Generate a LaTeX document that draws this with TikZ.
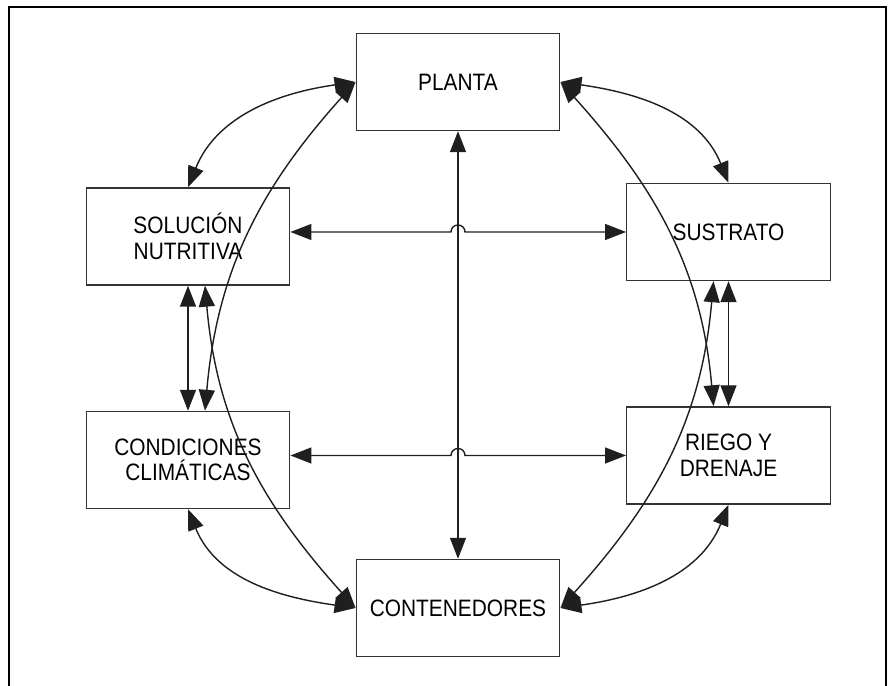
\documentclass[tikz,border=0pt]{standalone}
\usepackage{fontspec}
\setmainfont{Liberation Sans}[FakeStretch=0.88]
\usetikzlibrary{arrows.meta}

\begin{document}
\begin{tikzpicture}[
  font=\fontsize{13.5}{14.5}\selectfont,
  >={Triangle[length=0.42cm, width=0.32cm]},
  frame/.style={draw=black, line width=1.5pt},
  box/.style={draw=black!80, line width=0.8pt, fill=white, align=center,
              minimum width=4.07cm, minimum height=1.94cm, inner sep=0pt},
  link/.style={draw=black!88, line width=0.8pt, <->}
]
\useasboundingbox (0,0) rectangle (17.92,13.72);
\draw[frame] (0.18,0) -- (0.18,13.58) -- (17.72,13.58) -- (17.72,0);

% boxes
\node[box] (planta) at (9.16,12.08) {PLANTA};
\node[box] (sol)    at (3.76,8.99)  {SOLUCIÓN\\NUTRITIVA};
\node[box] (sus)    at (14.57,9.08) {SUSTRATO};
\node[box] (cond)   at (3.76,4.52)  {CONDICIONES\\CLIMÁTICAS};
\node[box] (rie)    at (14.57,4.61) {RIEGO Y\\DRENAJE};
\node[box] (cont)   at (9.16,1.56)  {CONTENEDORES};

% vertical axis and the two crossings with a hop
\draw[link] (planta.south) -- (cont.north);
\coordinate (hopT) at (planta.south |- sus.west);
\coordinate (hopB) at (planta.south |- rie.west);
\draw[link] (sol.east |- sus.west) -- ([xshift=-0.14cm]hopT)
  arc[start angle=180, end angle=0, radius=0.14cm] -- (sus.west);
\draw[link] (cond.east |- rie.west) -- ([xshift=-0.14cm]hopB)
  arc[start angle=180, end angle=0, radius=0.14cm] -- (rie.west);

% outer ring
\draw[link] (sol.north) to[out=68, in=188] (planta.west);
\draw[link] (sus.north) to[out=112, in=-8] (planta.east);
\draw[link] (cond.south) to[out=-68, in=172] (cont.west);
\draw[link] (rie.south) to[out=-112, in=8] (cont.east);

% side pairs
\draw[link] (sol.south) -- (cond.north);
\draw[link] (rie.north) -- (sus.south);
\draw[link] ([xshift=0.34cm]cond.north) to[out=85, in=228] (planta.west);
\draw[link] ([xshift=0.34cm]sol.south) to[out=-85, in=132] (cont.west);
\draw[link] ([xshift=-0.3cm]rie.north) to[out=95, in=-48] (planta.east);
\draw[link] ([xshift=-0.3cm]sus.south) to[out=-95, in=48] (cont.east);
\end{tikzpicture}
\end{document}
